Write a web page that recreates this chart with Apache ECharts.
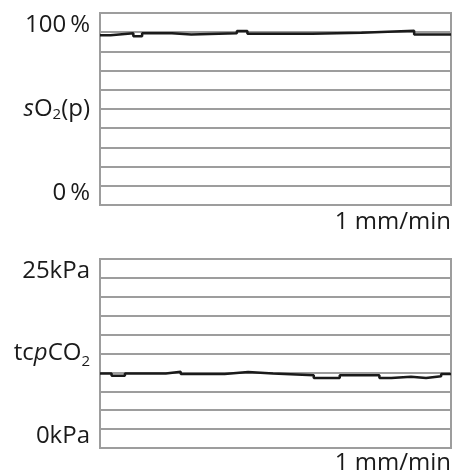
<!DOCTYPE html>
<html>
<head>
<meta charset="utf-8">
<script src="https://cdn.jsdelivr.net/npm/echarts@6/dist/echarts.min.js"></script>
<style>
  html, body { margin: 0; padding: 0; background: #fff; }
  #chart { width: 454px; height: 475px; }
</style>
</head>
<body>
<div id="chart"></div>
<script>
// sO2(p) trace, step segments (time in % of strip width)
var so2Time = [0, 3, 9.5, 12, 20.5, 26, 39, 42, 60.5, 74.5, 89.5, 100];
var so2Values = [88.4, 89.4, 87.9, 89.4, 88.8, 89.4, 90.6, 89.2, 89.7, 90.7, 88.8, 88.8];

// tcpCO2 trace in kPa
var co2Time = [0, 3.3, 7.1, 18.75, 23, 35.5, 42.2, 49.3, 60.9, 68.3, 79.6, 83, 88.6, 92.9, 97.2, 100];
var co2Values = [9.85, 9.55, 9.85, 10.08, 9.8, 10.05, 9.85, 9.62, 9.25, 9.62, 9.25, 9.42, 9.25, 9.5, 9.78, 9.78];

// tick labels: min, middle, max
var so2Ticks = [0, 50, 100];
var so2Labels = ['0\u2009%', '{i|s}O{sub|2}(p)', '100\u2009%'];
var co2Ticks = [0, 12.5, 25];
var co2Labels = ['0kPa', 'tc{i|p}CO{sub2|2}', '25kPa'];
var speedLabel = '1 mm/min';

var font = 'Open Sans';
var gray = '#9d9d9d';
var ink = '#1a1a1a';

function pairs(xs, ys) {
  return xs.map(function (x, i) { return [x, ys[i]]; });
}

function yLabel(ticks, labels) {
  return function (v) {
    var i = ticks.indexOf(v);
    return i < 0 ? '' : labels[i];
  };
}

var rich = {
  i: { fontFamily: font, fontSize: 24, fontStyle: 'italic', color: ink },
  sub: { fontFamily: font, fontSize: 15, color: ink, padding: [12, 0, 0, 0] },
  sub2: { fontFamily: font, fontSize: 15, color: ink, padding: [16, 0, 0, 0] }
};

function xAxisOpt(idx, margin) {
  return {
    type: 'value',
    gridIndex: idx,
    min: 0,
    max: 100,
    interval: 100,
    axisLine: { show: false },
    axisTick: { show: false },
    splitLine: { show: false },
    axisLabel: {
      margin: margin,
      fontFamily: font,
      fontSize: 24,
      color: ink,
      alignMaxLabel: 'right',
      formatter: function (v) { return v === 100 ? speedLabel : ''; }
    }
  };
}

function yAxisOpt(idx, max, interval, ticks, labels) {
  return {
    type: 'value',
    gridIndex: idx,
    min: 0,
    max: max,
    interval: interval,
    axisLine: { show: false },
    axisTick: { show: false },
    splitLine: { lineStyle: { color: gray, width: 2 } },
    axisLabel: {
      margin: 10,
      fontFamily: font,
      fontSize: 24,
      color: ink,
      verticalAlignMinLabel: 'bottom',
      verticalAlignMaxLabel: 'top',
      rich: rich,
      formatter: yLabel(ticks, labels)
    }
  };
}

var myChart = echarts.init(document.getElementById('chart'));
var option = {
  animation: false,
  grid: [
    { left: 100, top: 13, right: 2, height: 192, show: true, borderColor: gray, borderWidth: 2 },
    { left: 100, top: 259, right: 2, height: 192, show: true, borderColor: gray, borderWidth: 2 }
  ],
  xAxis: [xAxisOpt(0, 5), xAxisOpt(1, 3)],
  yAxis: [
    yAxisOpt(0, 100, 10, so2Ticks, so2Labels),
    yAxisOpt(1, 25, 2.5, co2Ticks, co2Labels)
  ],
  series: [
    {
      type: 'line',
      xAxisIndex: 0,
      yAxisIndex: 0,
      step: 'end',
      symbol: 'none',
      lineStyle: { color: ink, width: 2.5 },
      data: pairs(so2Time, so2Values)
    },
    {
      type: 'line',
      xAxisIndex: 1,
      yAxisIndex: 1,
      step: 'end',
      symbol: 'none',
      lineStyle: { color: ink, width: 2.5 },
      data: pairs(co2Time, co2Values)
    }
  ]
};
myChart.setOption(option);
</script>
</body>
</html>
